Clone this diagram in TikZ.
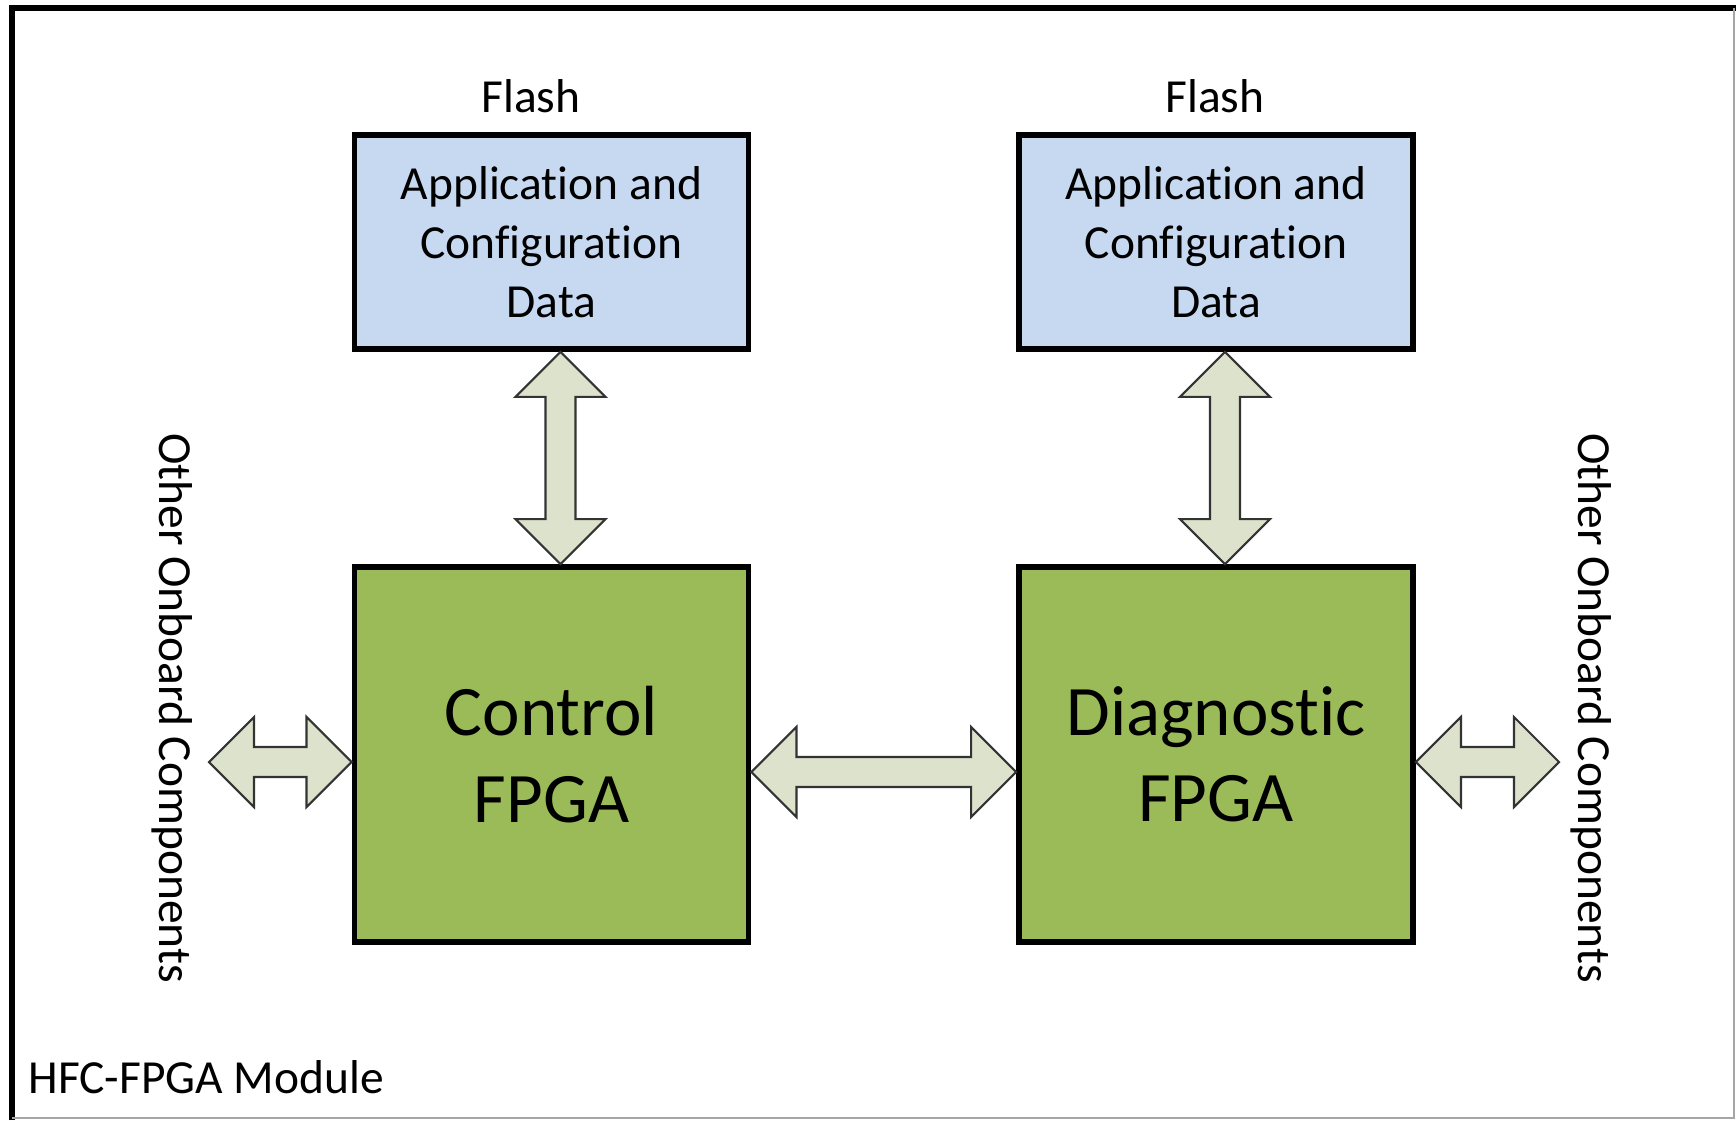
\documentclass[tikz,border=0pt]{standalone}
\usepackage{fontspec}
\setmainfont{Carlito}[Ligatures=NoCommon]
\usetikzlibrary{calc}
\definecolor{flashblue}{HTML}{C6D9F1}
\definecolor{fpgagreen}{HTML}{9BBB59}
\definecolor{arrowfill}{HTML}{DDE2CC}

\begin{document}
\begin{tikzpicture}[x=0.01cm,y=-0.01cm]
\tikzset{
  boxbase/.style={rectangle,draw=black,line width=1.6pt,align=center,inner sep=2pt,minimum width=3.94cm},
  flashbox/.style={boxbase,fill=flashblue,minimum height=2.14cm,font=\fontsize{13.5}{16.8}\selectfont},
  fpgabox/.style={boxbase,fill=fpgagreen,minimum height=3.75cm,font=\fontsize{20.2}{24.5}\selectfont},
  plaintext/.style={inner sep=0pt,font=\fontsize{13.5}{16.8}\selectfont},
  blockarrow/.style={draw=black!80,line width=0.6pt,fill=arrowfill,line join=miter,
    to path={let \p1=($(\tikztostart)!0.45cm!(\tikztotarget)$),
                 \p2=($(\tikztotarget)!0.45cm!(\tikztostart)$) in
      -- ($(\p1)!0.45cm!90:(\tikztotarget)$) -- ($(\p1)!0.15cm!90:(\tikztotarget)$)
      -- ($(\p2)!0.15cm!-90:(\tikztostart)$) -- ($(\p2)!0.45cm!-90:(\tikztostart)$)
      -- (\tikztotarget)
      -- ($(\p2)!0.45cm!90:(\tikztostart)$) -- ($(\p2)!0.15cm!90:(\tikztostart)$)
      -- ($(\p1)!0.15cm!-90:(\tikztotarget)$) -- ($(\p1)!0.45cm!-90:(\tikztotarget)$)
      -- cycle}}
}
\useasboundingbox (0,0) rectangle (1736,1120);
% module frame (cut at right and bottom)
\draw[line width=1.7pt] (12,1120) -- (12,8) -- (1736,8);
\draw[black!35,line width=0.4pt] (1734,8) -- (1734,1118) -- (12,1118);

\node[flashbox] (n_flash0) at (551.5,242) {Application and\\Configuration\\Data};
\node[flashbox] (n_flash1) at (1216,242) {Application and\\Configuration\\Data};
\node[fpgabox] (n_ctrl) at (551.5,754.5) {Control\\FPGA};
\node[fpgabox] (n_diag) at (1216,754.5) {Diagnostic\\FPGA};
\node[plaintext] (t_flash0) at (531,96) {Flash};
\node[plaintext] (t_flash1) at (1215,96) {Flash};
\node[plaintext,rotate=-90] (t_other0) at (172,708) {Other Onboard Components};
\node[plaintext,rotate=-90] (t_other1) at (1591,708) {Other Onboard Components};
\node[plaintext,anchor=west] (t_module) at (28,1077) {HFC-FPGA Module};
\coordinate (c_lext) at (209,762);
\coordinate (c_rext) at (1559,762);

\draw[blockarrow] ([xshift=0.09cm]n_flash0.south) to ([xshift=0.09cm]n_ctrl.north);
\draw[blockarrow] ([xshift=0.09cm]n_flash1.south) to ([xshift=0.09cm]n_diag.north);
\draw[blockarrow] ([yshift=-0.175cm]n_ctrl.east) to ([yshift=-0.175cm]n_diag.west);
\draw[blockarrow] (c_lext) to ([yshift=-0.075cm]n_ctrl.west);
\draw[blockarrow] ([yshift=-0.075cm]n_diag.east) to (c_rext);
\end{tikzpicture}
\end{document}
